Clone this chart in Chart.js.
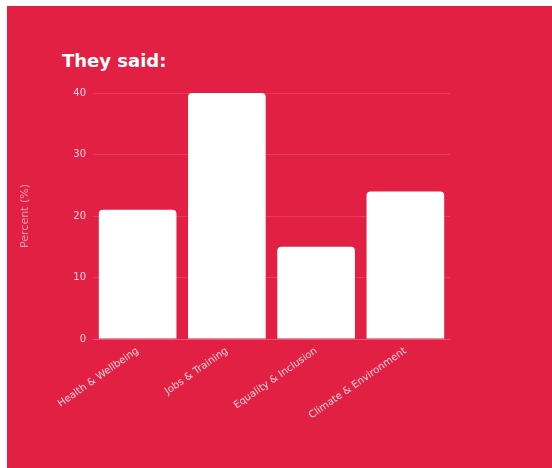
<!DOCTYPE html>
<html>
<head>
<meta charset="utf-8">
<script src="https://cdn.jsdelivr.net/npm/chart.js@4.4.1/dist/chart.umd.min.js"></script>
<style>
  html,body{margin:0;padding:0;background:#fff;width:552px;height:468px;overflow:hidden;}
  #card{position:absolute;left:7px;top:6px;width:545px;height:462px;background:#e22044;}
  #title{position:absolute;left:55px;top:46px;font:bold 18px "DejaVu Sans",sans-serif;color:#fff;line-height:18px;white-space:nowrap;}
  #chart{position:absolute;left:0;top:0;}
</style>
</head>
<body>
<div id="card">
  <div id="title">They said:</div>
  <canvas id="chart" width="545" height="462"></canvas>
</div>
<script>
const labels=["Health & Wellbeing","Jobs & Training","Equality & Inclusion","Climate & Environment"];
const values=[21,40,15,24];
const yTicks=[0,10,20,30,40];

const faint="rgba(255,255,255,0.13)";
const ctx=document.getElementById("chart");
new Chart(ctx,{
  type:"bar",
  data:{labels:labels,datasets:[{label:"Percent",data:values,backgroundColor:"#fff",borderWidth:0,borderRadius:4,borderSkipped:"start",
    categoryPercentage:1,barPercentage:0.87}]},
  options:{
    responsive:false,animation:false,
    layout:{padding:{left:12,right:102,top:87,bottom:0}},
    plugins:{legend:{display:false},title:{display:false},tooltip:{enabled:false}},
    scales:{
      x:{
        grid:{display:false,drawTicks:false},
        border:{color:faint},
        ticks:{color:"rgba(255,255,255,0.8)",font:{family:"DejaVu Sans",size:10},minRotation:35,maxRotation:35,padding:6,autoSkip:false},
        afterFit:s=>{s.height=129;}
      },
      y:{
        min:0,max:40,
        afterBuildTicks:s=>{s.ticks=yTicks.map(v=>({value:v}));},
        grid:{color:faint,drawTicks:false},
        border:{display:false},
        ticks:{color:"rgba(255,255,255,0.8)",font:{family:"DejaVu Sans",size:10},padding:7},
        title:{display:true,text:"Percent (%)",color:"rgba(255,255,255,0.55)",font:{family:"DejaVu Sans",size:11},padding:{top:0,bottom:0}},
        afterFit:s=>{s.width=74;}
      }
    }
  }
});
</script>
</body>
</html>
